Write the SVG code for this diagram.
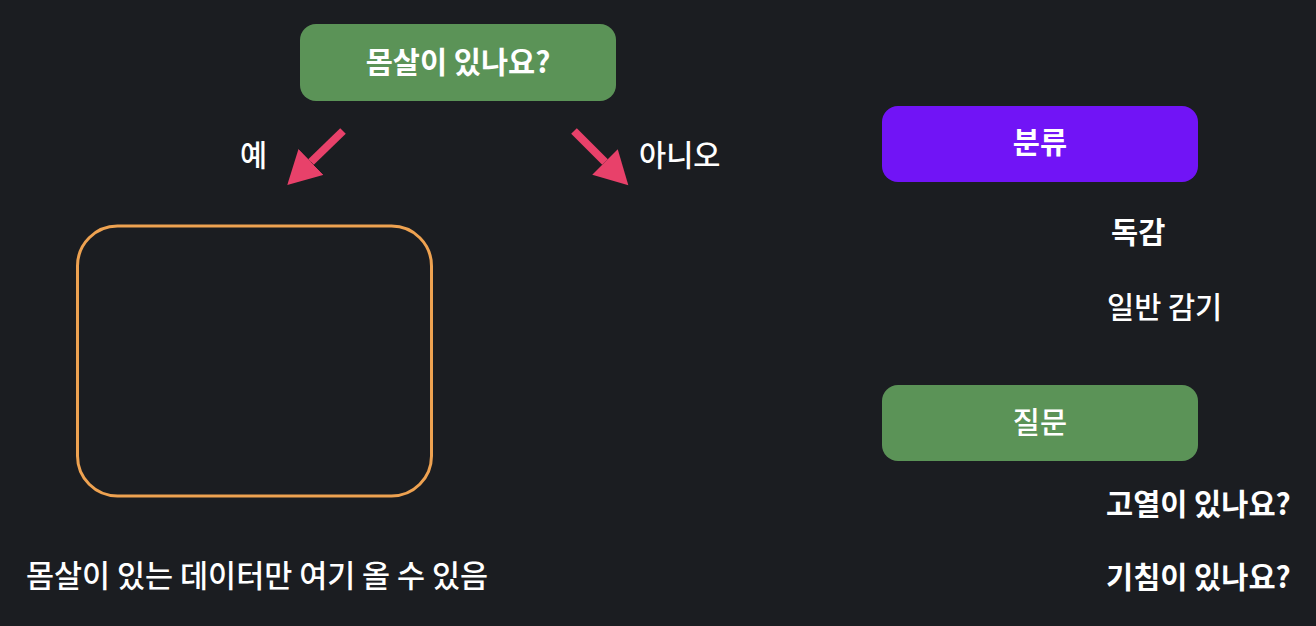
<svg xmlns="http://www.w3.org/2000/svg" width="1316" height="626" viewBox="0 0 1316 626">
<style>
text{font-family:"Noto Sans CJK KR","Noto Sans",sans-serif;fill:#ffffff;font-size:29.5px}
.c{text-anchor:middle}
.b{font-weight:600}
.m{font-weight:500}
.arrow{stroke:#e8416a;stroke-width:8;fill:none}
</style>
<defs>
<marker id="ah" markerUnits="userSpaceOnUse" markerWidth="34" markerHeight="36" refX="0" refY="18" orient="auto" viewBox="0 0 34 36">
<path d="M0,0 L33,18 L0,36 Z" fill="#e8416a"/>
</marker>
</defs>
<rect width="1316" height="626" fill="#1b1d21"/>
<g id="question-main">
<rect x="300" y="24" width="316" height="77" rx="16" fill="#5b9357"/>
<text class="c b" x="458" y="73">몸살이 있나요?</text>
</g>
<g id="connectors">
<line class="arrow" x1="343" y1="131" x2="311" y2="162" marker-end="url(#ah)"/>
<line class="arrow" x1="574" y1="131" x2="605" y2="162" marker-end="url(#ah)"/>
</g>
<g id="label-yes"><text class="m" x="240" y="166">예</text></g>
<g id="label-no"><text class="m" x="639" y="166">아니오</text></g>
<g id="yes-box">
<rect x="77.5" y="226" width="354" height="270" rx="40" fill="none" stroke="#eea251" stroke-width="3"/>
</g>
<g id="yes-note"><text class="m" x="26" y="587" style="font-size:30.5px">몸살이 있는 데이터만 여기 올 수 있음</text></g>
<g id="category">
<rect x="882" y="106" width="316" height="76" rx="16" fill="#7114f6"/>
<text class="c b" x="1040" y="153">분류</text>
</g>
<g id="flu"><text class="b" x="1111" y="243">독감</text></g>
<g id="cold"><text class="m" x="1107" y="318">일반 감기</text></g>
<g id="questions">
<rect x="882" y="385" width="316" height="76" rx="16" fill="#5b9357"/>
<text class="c m" x="1040" y="433">질문</text>
</g>
<g id="fever"><text class="b" x="1106" y="515">고열이 있나요?</text></g>
<g id="cough"><text class="b" x="1106" y="588">기침이 있나요?</text></g>
</svg>
